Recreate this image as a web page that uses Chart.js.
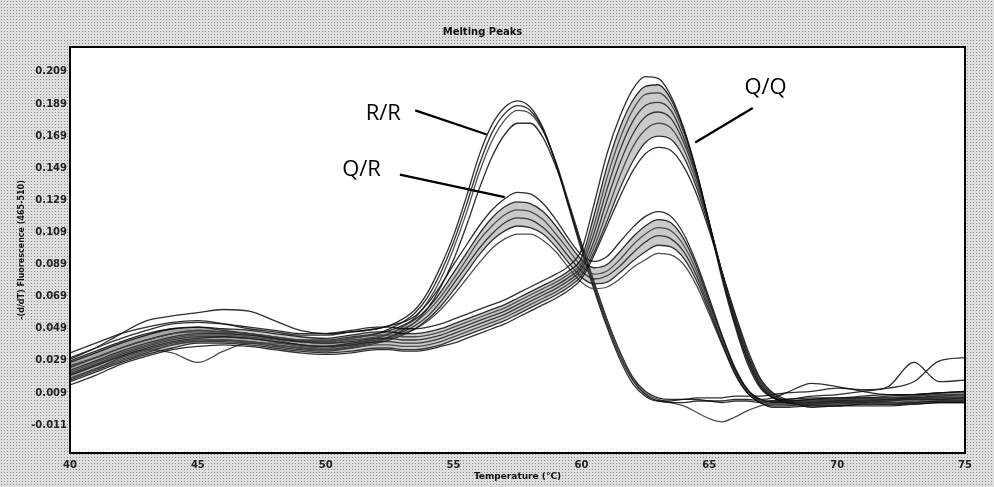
<!DOCTYPE html>
<html>
<head>
<meta charset="utf-8">
<script src="https://cdn.jsdelivr.net/npm/chart.js@4.4.0/dist/chart.umd.min.js"></script>
<style>
  html, body { margin: 0; padding: 0; }
  body {
    width: 994px; height: 487px; overflow: hidden;
    background-color: #dedede;
    background-image: radial-gradient(circle, #8c8c8c 0.6px, transparent 0.9px);
    background-size: 3px 3px;
  }
</style>
</head>
<body>
<canvas id="meltChart" width="994" height="487"></canvas>
<script>
// temperature grid (°C), finer through the melting region
const temps = [40,41,42,43,44,45,46,47,48,49,50,51,52,
  52.5,53,53.5,54,54.5,55,55.5,56,56.5,57,57.5,58,58.5,59,59.5,60,60.5,61,61.5,62,62.5,63,63.5,64,64.5,65,65.5,66,66.5,67,67.5,68,
  69,70,71,72,73,74,75];

const xTicks = [40,45,50,55,60,65,70,75];
const yTicks = [-0.011,0.009,0.029,0.049,0.069,0.089,0.109,0.129,0.149,0.169,0.189,0.209];

// R/R samples (single peak ~57.5 °C)
const rrA = [0.030,0.037,0.046,0.054,0.057,0.059,0.061,0.060,0.054,0.048,0.046,0.047,0.049,
  0.051,0.055,0.061,0.072,0.088,0.107,0.131,0.157,0.176,0.187,0.191,0.187,0.174,0.152,0.125,0.098,0.073,0.050,0.030,0.015,0.007,0.004,0.004,0.005,0.005,0.004,0.004,0.005,0.005,0.004,0.004,0.005,
  0.006,0.006,0.007,0.008,0.008,0.009,0.010];
const rrB = [0.026,0.031,0.037,0.042,0.046,0.048,0.047,0.046,0.043,0.041,0.041,0.043,0.046,
  0.049,0.053,0.059,0.069,0.084,0.103,0.126,0.151,0.171,0.183,0.188,0.185,0.173,0.152,0.126,0.100,0.075,0.052,0.032,0.017,0.008,0.004,0.003,0.003,0.004,0.004,0.003,0.004,0.004,0.003,0.004,0.004,
  0.005,0.005,0.006,0.006,0.007,0.008,0.008];
const rrC = [0.022,0.028,0.034,0.039,0.043,0.045,0.045,0.044,0.042,0.039,0.038,0.040,0.043,
  0.046,0.050,0.056,0.066,0.080,0.099,0.121,0.146,0.166,0.179,0.185,0.183,0.172,0.153,0.128,0.102,0.077,0.054,0.034,0.018,0.009,0.005,0.003,0.001,-0.003,-0.007,-0.009,-0.006,-0.002,0.001,0.003,0.004,
  0.004,0.005,0.005,0.006,0.006,0.007,0.008];
const rrD = [0.018,0.024,0.031,0.036,0.040,0.042,0.042,0.041,0.039,0.037,0.036,0.038,0.041,
  0.044,0.048,0.053,0.062,0.075,0.092,0.113,0.136,0.156,0.170,0.177,0.177,0.168,0.150,0.127,0.102,0.078,0.055,0.035,0.019,0.010,0.006,0.005,0.005,0.006,0.006,0.006,0.007,0.007,0.007,0.008,0.009,
  0.010,0.012,0.011,0.012,0.016,0.029,0.031];

// Q/R samples (two peaks ~57.8 and ~63 °C)
const qrA = [0.034,0.040,0.046,0.050,0.053,0.054,0.052,0.049,0.047,0.045,0.045,0.047,0.049,
  0.051,0.053,0.057,0.065,0.076,0.089,0.101,0.113,0.123,0.130,0.134,0.133,0.127,0.117,0.105,0.095,0.091,0.094,0.103,0.112,0.119,0.122,0.119,0.108,0.090,0.068,0.045,0.025,0.011,0.005,0.006,0.009,
  0.015,0.013,0.010,0.008,0.008,0.009,0.009];
const qrB = [0.029,0.035,0.041,0.046,0.049,0.050,0.048,0.046,0.044,0.042,0.042,0.044,0.046,
  0.048,0.051,0.055,0.062,0.072,0.084,0.096,0.108,0.118,0.125,0.128,0.127,0.122,0.113,0.102,0.092,0.087,0.089,0.097,0.106,0.113,0.117,0.115,0.105,0.088,0.066,0.044,0.024,0.011,0.005,0.003,0.003,
  0.004,0.004,0.005,0.005,0.006,0.006,0.006];
const qrC = [0.025,0.031,0.037,0.042,0.046,0.047,0.046,0.045,0.043,0.041,0.040,0.042,0.044,
  0.046,0.049,0.053,0.060,0.069,0.080,0.092,0.104,0.113,0.120,0.123,0.122,0.117,0.108,0.098,0.088,0.083,0.085,0.092,0.101,0.108,0.112,0.110,0.101,0.085,0.064,0.042,0.023,0.010,0.004,0.002,0.002,
  0.003,0.003,0.004,0.004,0.005,0.005,0.005];
const qrD = [0.021,0.027,0.033,0.038,0.042,0.044,0.044,0.043,0.041,0.039,0.038,0.040,0.042,
  0.044,0.047,0.051,0.057,0.066,0.077,0.088,0.099,0.108,0.115,0.118,0.117,0.112,0.104,0.094,0.085,0.080,0.082,0.088,0.096,0.103,0.107,0.105,0.097,0.082,0.062,0.041,0.022,0.009,0.003,0.001,0.001,
  0.002,0.002,0.003,0.003,0.003,0.004,0.004];
const qrE = [0.017,0.023,0.029,0.034,0.039,0.041,0.041,0.040,0.038,0.036,0.035,0.037,0.040,
  0.042,0.045,0.049,0.055,0.063,0.073,0.084,0.095,0.104,0.110,0.113,0.112,0.108,0.100,0.090,0.081,0.077,0.078,0.084,0.091,0.097,0.101,0.100,0.093,0.079,0.060,0.040,0.021,0.009,0.003,0.000,0.000,
  0.001,0.001,0.002,0.002,0.002,0.003,0.003];
const qrF = [0.020,0.026,0.032,0.036,0.034,0.028,0.035,0.040,0.040,0.038,0.037,0.039,0.041,
  0.043,0.046,0.049,0.054,0.061,0.070,0.080,0.090,0.099,0.105,0.108,0.108,0.104,0.097,0.087,0.078,0.074,0.075,0.080,0.087,0.092,0.096,0.095,0.089,0.076,0.058,0.039,0.021,0.009,0.004,0.002,0.002,
  0.003,0.004,0.004,0.005,0.005,0.006,0.006];

// Q/Q samples (single peak ~62.8 °C)
const qqA = [0.031,0.037,0.043,0.048,0.052,0.053,0.052,0.050,0.048,0.046,0.046,0.048,0.050,
  0.050,0.049,0.049,0.050,0.052,0.055,0.058,0.061,0.064,0.067,0.071,0.075,0.079,0.083,0.088,0.098,0.127,0.158,0.181,0.198,0.206,0.205,0.194,0.174,0.147,0.114,0.080,0.051,0.027,0.012,0.006,0.005,
  0.007,0.008,0.010,0.013,0.028,0.016,0.017];
const qqB = [0.028,0.034,0.040,0.045,0.049,0.050,0.049,0.048,0.046,0.044,0.043,0.045,0.047,
  0.047,0.046,0.046,0.047,0.049,0.052,0.055,0.058,0.061,0.064,0.068,0.072,0.076,0.080,0.085,0.093,0.120,0.150,0.174,0.191,0.200,0.201,0.192,0.173,0.147,0.115,0.082,0.053,0.029,0.013,0.006,0.004,
  0.005,0.006,0.006,0.007,0.008,0.009,0.010];
const qqC = [0.025,0.031,0.037,0.042,0.046,0.048,0.047,0.046,0.044,0.042,0.041,0.043,0.045,
  0.045,0.044,0.044,0.045,0.047,0.050,0.053,0.056,0.059,0.062,0.066,0.070,0.074,0.078,0.083,0.090,0.114,0.143,0.167,0.185,0.195,0.196,0.189,0.171,0.146,0.115,0.083,0.054,0.030,0.014,0.006,0.004,
  0.004,0.005,0.005,0.006,0.007,0.008,0.008];
const qqD = [0.023,0.029,0.035,0.040,0.044,0.046,0.046,0.045,0.043,0.041,0.040,0.041,0.043,
  0.043,0.042,0.042,0.043,0.045,0.048,0.051,0.054,0.057,0.060,0.064,0.068,0.072,0.076,0.081,0.088,0.109,0.136,0.160,0.178,0.188,0.190,0.185,0.168,0.145,0.115,0.084,0.055,0.031,0.014,0.006,0.003,
  0.003,0.004,0.004,0.005,0.006,0.007,0.007];
const qqE = [0.020,0.026,0.032,0.037,0.041,0.043,0.044,0.043,0.041,0.039,0.038,0.039,0.041,
  0.041,0.040,0.040,0.041,0.043,0.046,0.049,0.052,0.055,0.058,0.062,0.066,0.070,0.074,0.079,0.086,0.104,0.129,0.152,0.170,0.181,0.184,0.180,0.165,0.143,0.114,0.084,0.056,0.032,0.015,0.007,0.003,
  0.002,0.003,0.003,0.004,0.005,0.005,0.006];
const qqF = [0.018,0.024,0.030,0.035,0.039,0.041,0.042,0.041,0.039,0.037,0.036,0.037,0.039,
  0.039,0.038,0.038,0.039,0.041,0.044,0.047,0.050,0.053,0.056,0.060,0.064,0.068,0.072,0.077,0.084,0.100,0.122,0.144,0.162,0.173,0.177,0.174,0.161,0.140,0.113,0.084,0.057,0.033,0.016,0.007,0.003,
  0.002,0.002,0.003,0.003,0.004,0.005,0.005];
const qqG = [0.016,0.022,0.028,0.033,0.037,0.040,0.040,0.039,0.037,0.035,0.034,0.035,0.037,
  0.037,0.036,0.036,0.037,0.039,0.042,0.045,0.048,0.051,0.054,0.058,0.062,0.066,0.070,0.075,0.082,0.097,0.116,0.136,0.153,0.165,0.169,0.167,0.156,0.137,0.112,0.084,0.058,0.034,0.017,0.008,0.004,
  0.001,0.001,0.002,0.002,0.003,0.004,0.004];
const qqH = [0.014,0.020,0.027,0.032,0.036,0.038,0.039,0.038,0.036,0.034,0.033,0.034,0.036,
  0.036,0.035,0.035,0.036,0.038,0.040,0.043,0.046,0.049,0.052,0.056,0.060,0.064,0.068,0.073,0.080,0.095,0.113,0.131,0.147,0.158,0.162,0.160,0.150,0.133,0.110,0.084,0.059,0.036,0.018,0.009,0.005,
  0.000,0.001,0.001,0.001,0.002,0.003,0.003];

const rrCurves = [rrA, rrB, rrC, rrD];
const qrCurves = [qrA, qrB, qrC, qrD, qrE, qrF];
const qqCurves = [qqA, qqB, qqC, qqD, qqE, qqF, qqG, qqH];

// genotype labels with their leader lines (data coordinates)
const notes = [
  { text: 'R/R', at: [52.25, 0.183], from: [53.5, 0.185], to: [56.3, 0.170] },
  { text: 'Q/R', at: [51.4, 0.148], from: [52.9, 0.145], to: [57.0, 0.131] },
  { text: 'Q/Q', at: [67.2, 0.199], from: [66.7, 0.1865], to: [64.45, 0.165] }
];

const datasets = [];
// shade the band between the second and the second-last curve of a group
function addGroup(list, shade) {
  const first = datasets.length;
  list.forEach(function(vals, i) {
    datasets.push({
      data: vals.map((v, j) => ({ x: temps[j], y: v })),
      borderColor: i % 3 === 2 ? 'rgba(60,60,60,0.9)' : 'rgba(10,10,10,0.85)',
      borderWidth: 1.3,
      pointRadius: 0,
      cubicInterpolationMode: 'monotone',
      fill: (shade && i === 1) ? { target: first + list.length - 2, above: shade, below: shade } : false
    });
  });
}
addGroup(qqCurves, 'rgba(80,80,80,0.3)');
addGroup(qrCurves, 'rgba(80,80,80,0.3)');
addGroup(rrCurves, null);

const plotFrame = {
  id: 'plotFrame',
  beforeDatasetsDraw(chart) {
    const a = chart.chartArea, c = chart.ctx;
    c.save();
    c.fillStyle = '#ffffff';
    c.fillRect(a.left, a.top, a.right - a.left, a.bottom - a.top);
    c.restore();
  },
  afterDraw(chart) {
    const a = chart.chartArea, c = chart.ctx;
    c.save();
    c.strokeStyle = '#000';
    c.lineWidth = 2;
    c.strokeRect(a.left, a.top, a.right - a.left, a.bottom - a.top);
    c.restore();
  }
};

const notesPlugin = {
  id: 'notes',
  afterDatasetsDraw(chart) {
    const c = chart.ctx, xs = chart.scales.x, ys = chart.scales.y;
    c.save();
    c.strokeStyle = '#000';
    c.lineWidth = 2.2;
    c.fillStyle = '#000';
    c.font = '22px "Open Sans"';
    c.textAlign = 'center';
    c.textBaseline = 'middle';
    notes.forEach(function(n) {
      c.beginPath();
      c.moveTo(xs.getPixelForValue(n.from[0]), ys.getPixelForValue(n.from[1]));
      c.lineTo(xs.getPixelForValue(n.to[0]), ys.getPixelForValue(n.to[1]));
      c.stroke();
      c.fillText(n.text, xs.getPixelForValue(n.at[0]), ys.getPixelForValue(n.at[1]));
    });
    c.restore();
  }
};

const tickFont = { family: 'DejaVu Sans', size: 10, weight: 'bold' };

const ctx = document.getElementById('meltChart').getContext('2d');
new Chart(ctx, {
  type: 'line',
  data: { datasets: datasets },
  options: {
    responsive: false,
    animation: false,
    devicePixelRatio: 1,
    layout: { padding: { left: 0, right: 29, top: 0, bottom: 0 } },
    plugins: {
      legend: { display: false },
      tooltip: { enabled: false },
      filler: { propagate: false },
      title: {
        display: true,
        text: 'Melting Peaks',
        color: '#111',
        font: { family: 'DejaVu Sans', size: 10, weight: 'bold' },
        padding: { top: 26, bottom: 9 }
      }
    },
    scales: {
      x: {
        type: 'linear',
        min: 40,
        max: 75,
        grid: { display: false, drawTicks: false },
        border: { display: true, color: '#000', width: 2 },
        afterBuildTicks: function(scale) { scale.ticks = xTicks.map(v => ({ value: v })); },
        afterFit: function(scale) { scale.height = 34; },
        ticks: { padding: 6, color: '#222', font: tickFont, maxRotation: 0 },
        title: { display: true, text: 'Temperature (°C)', color: '#111', font: { family: 'DejaVu Sans', size: 9, weight: 'bold' }, padding: { top: 0, bottom: 5 } }
      },
      y: {
        type: 'linear',
        min: -0.0284,
        max: 0.2245,
        grid: { display: false, drawTicks: false },
        border: { display: true, color: '#000', width: 2 },
        afterBuildTicks: function(scale) { scale.ticks = yTicks.map(v => ({ value: v })); },
        afterFit: function(scale) { scale.width = 70; },
        ticks: { padding: 3, color: '#222', font: tickFont, callback: v => v.toFixed(3) },
        title: { display: true, text: '-(d/dT) Fluorescence (465-510)', color: '#111', font: { family: 'DejaVu Sans', size: 8, weight: 'bold' }, padding: { top: 17, bottom: 0 } }
      }
    }
  },
  plugins: [plotFrame, notesPlugin]
});
</script>
</body>
</html>
